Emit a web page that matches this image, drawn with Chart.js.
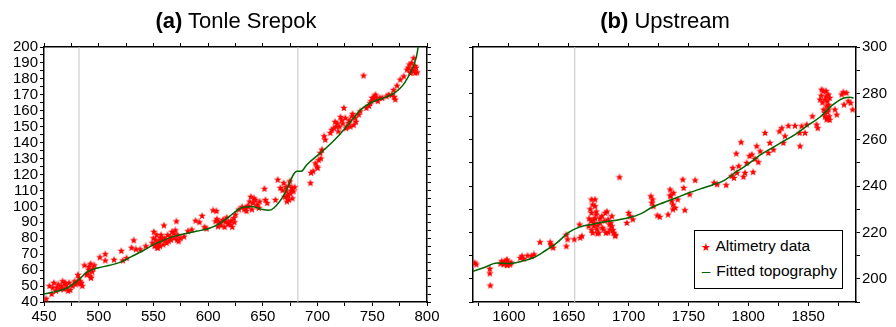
<!DOCTYPE html>
<html>
<head>
<meta charset="utf-8">
<script src="https://cdn.jsdelivr.net/npm/chart.js@4.4.1/dist/chart.umd.min.js"></script>
<style>
  body { margin: 0; background: #fff; }
  #wrap { position: relative; width: 896px; height: 327px; font-family: "Liberation Sans", Arial, Helvetica, sans-serif; }
  canvas { position: absolute; top: 0; }
  .title { position: absolute; top: 8px; width: 300px; text-align: center; font-size: 22px; color: #000; white-space: nowrap; }
  #legendB { position: absolute; left: 694px; top: 230px; width: 147px; height: 57px; border: 1px solid #000; background: #fff; font-size: 15.5px; color: #000; }
  #legendB div { position: absolute; left: 5px; white-space: nowrap; }
  .sym { display: inline-block; width: 12px; text-align: center; }
</style>
</head>
<body>
<div id="wrap">
  <canvas id="chartA" width="448" height="327" style="left:0"></canvas>
  <canvas id="chartB" width="448" height="327" style="left:448px"></canvas>
  <div class="title" style="left:86px"><b>(a)</b> Tonle Srepok</div>
  <div class="title" style="left:515px"><b>(b)</b> Upstream</div>
  <div id="legendB">
    <div style="top:6px"><span class="sym" style="color:#f00;font-size:11px">&#9733;</span> Altimetry data</div>
    <div style="top:31px"><span class="sym" style="color:#006400">&#8211;</span> Fitted topography</div>
  </div>
</div>
<script>
// (a) Tonle Srepok - altimetry points (distance, elevation)
const srepokX = [452,457,455,459,462,467,465,470,473,474,478,481,483.5,483,487,491,492.6,492.6,494,490,
  501,506,506,514,520.6,522,525.5,532,530,534,538,543,550.4,552,551,553.5,555,556.5,559.6,561,
  564,565.6,568.7,571,570,571.7,574.8,578,581.5,585,588.5,592,594.5,596.7,598.5,604.6,607.6,606.7,609,611,
  613.7,616,619,620.4,623.5,625,628,631,634,637,639,641,643,644.8,646.3,651.5,652.4,654,661.5,663.6,
  666,669,671.5,673.7,675,676.7,678,672,674.6,
  693.5,694,696,698,699.5,701,702.6,704,707,706,711.7,714.8,716,718,720,722,724,725.4,727,728.4,
  731.5,733,734.5,737.6,739,742,744.6,748,751,752.8,754,757,763,768,769.5,770,772.6,775.6,778.7,781.7,
  784,786,787.8,789.3,784.8,790,
  458,461,463,466,468,469,471,472,476,479,480,482,484,485,489,491,493,495,496,
  549,550,552,553,554,555,556,557,558,559,560,562,563,566,567,569,572,573,
  608,610,612,614,615,617,618,621,622,624,
  633,635,636,638,640,642,645,647,
  668,670,671,672,673,674,676,677,679,
  700,703,713,717,719,721,723,726,729,730,732,735,
  747,749,750,753,755,759,765,771,
  783,785,786,788,789,791];
const srepokY = [42,45,50,52,49,53,48,51,52,47.5,53,57,51.5,53,63,62,64,56,59,58,
  68,70,66,66.5,72,66,67.5,78.7,74,73,73,75,84,79,75,74,77,80,88,79,
  78,81,83,90.6,85,79,80,81,84.4,85.4,91,90,94,87,86,97.5,97,90.6,87.4,89.5,
  91.6,90.6,89.5,88.5,92.7,94.8,98,99.6,99,100,106,102,104,101,99,111,104,102,104,116.7,
  111.5,114.6,109.4,104,108,111.5,109.4,106,115.7,
  114.6,121,122,127,125,129,133.5,135.6,141.8,144,146,149,153,152,150,154,161.7,155.4,150,152.3,
  156.5,151,155.4,157.5,159.6,182,161.7,164.8,168,170,167,168,169,170,173,168.6,175.7,179.5,181.6,185.8,
  189,185.8,193,183.7,183.7,187,
  49,47,51,50,48,52,49,47,50,51,52,55,52,50,57,60,55,61,63,
  77,80,76,82,74,78,75,82,79,76,80,77,82,79,84,80,82,78,
  92,90,88,91,87,93,89,91,87,90,
  98,97,100,103,98,105,100,103,
  110,106,112,103,107,113,110,105,112,
  124,130,148,150,147,156,152,149,154,150,158,153,
  163,166,168,169,166,168,170,167,
  187,184,190,185,188,184];
// (a) fitted topography
const srepokFitX = [450,460,470,480,490,500,510,520,530,540,550,560,570,580,590,600,610,620,630,640,
  650,655,660,670,678,681,685,690,700,710,720,730,740,750,760,770,780,790,792];
const srepokFitY = [45,46.5,48.5,53,59,61.5,63,65,68.5,72,76,79,81.5,83,84.5,86,89,94,99,100,
  98,97.5,99,108,120,122,122,126,132,138,145,153,161,165.5,168,171,178,193,200];
const srepokBounds = [482, 682];

// (b) Upstream - altimetry points
const upX = [1571.4,1572.8,1584,1584,1584.5,1594,1595.6,1597,1598.4,1600,1601,1598.4,1609.5,1611,1612.3,1615.6,1619,1621,
  1626,1634.5,1636,1637,1635,1648,1648,1649,1654.6,1659,1661,1659.6,
  1669,1672,1669,1670.7,1671,1670,1672,1673,1673.5,1668.5,1666.6,1675,1676,1679,1680.5,1682,1683,1684.6,1686,1687.4,
  1688.8,1681,1677.7,1684,1686,
  1692.4,1698.5,1700,1701.3,1703.5,1718.6,1719.4,1720,1720.8,1724,1726,1733,1734.7,1735,1736,1737,1737.5,1739,1741,
  1745.3,1746,1747,1751,1755.6,1771.4,1774,1781.5,1786,1787,1788,1790,1790.5,1792,1794,1796,1797.3,1798.7,
  1801,1803,1804,1805.7,1807,1808.4,1810,1814,1816.8,1818,1821,1826,1828,1829.3,1830.7,1833.5,
  1839,1842.8,1843.3,1844.6,1847.4,1848.8,1853.6,1857,1858,
  1861.3,1862.7,1864,1865.5,1864,1865.5,1867,1866,1867,1867.7,1860,1865,
  1872.4,1873.9,1878,1879.4,1880,1882,1883.6,1885.5,1887.2,
  1593,1596,1599,1602,
  1667,1668,1669,1670,1671,1672,1673,1674,1674,1676,1678,1680,1683,1685,1687,1689,
  1735,1737,
  1861,1862,1863,1864,1865,1866,1866,1867,1868,1868];
const upY = [206.9,206.2,204.3,202.3,197.1,207.6,206.2,207.6,205.9,206.9,206.2,208.3,209,209.8,208.6,210,209.8,210.5,
  215.8,215.8,214,213.4,214.8,219,214,217,217,223.4,218.4,217.7,
  234.2,234.2,228.4,225.6,222.7,219.8,231.3,227.7,221.3,224.9,222.7,219.8,224,221.3,228.4,229,225.6,221.3,227,219.8,
  218.4,219.8,227,223.4,222.7,
  243.8,224.1,228.4,227,225.6,235.6,232.8,234.2,231.3,227.3,226.7,227.7,238.5,235.6,233.5,229.9,237,230.6,234.2,
  242.8,239.2,229.6,236.4,242.5,241.4,240.7,240.4,244.3,247.8,243.5,254,245.7,248.6,258.9,244,245.7,250,
  252.9,253.6,246,251.7,257.2,250.3,255,262.9,254.3,258.6,255.7,263.6,265,258.6,261.5,266,
  266,262.9,257.2,265.8,262.9,266.5,270.1,266.5,265,
  281.6,280.9,277.3,274.4,271.6,268.7,279.5,276.6,273,270.1,277.3,278.7,
  273,270.8,279.5,280.5,275.1,280.2,276.6,275.8,273,
  206.5,207,206,207,
  226,230,221,232,224,226,229,223,219.5,226,222,225,220,224,221,219,
  236,232,
  279,276,273,270,281,272,269,275,278,268.5];
// (b) fitted topography
const upFitX = [1570,1580,1590,1600,1610,1620,1630,1640,1650,1660,1670,1680,1690,1700,1710,1720,1730,1740,1750,1760,
  1770,1780,1790,1800,1810,1820,1830,1840,1850,1860,1870,1880,1885,1888];
const upFitY = [203.2,205,206.8,206.6,207.5,209,212,215.5,220,222.5,223.5,224.6,225.3,226.3,228,231,233,235,237,238.8,
  240.5,242.5,246.2,249.5,253.5,256.5,259.5,262.5,266.3,269.8,274.8,278,278.3,278];
const upBounds = [1655];

const font = '"Liberation Sans", Arial, Helvetica, sans-serif';
Chart.defaults.font.family = font;
Chart.defaults.font.size = 15;
Chart.defaults.color = '#000';

// filled five-pointed star used as marker
function makeStar(size, color) {
  const c = document.createElement('canvas');
  c.width = size; c.height = size;
  const g = c.getContext('2d');
  const cx = size / 2, cy = size / 2, ro = size / 2, ri = ro * 0.42;
  g.beginPath();
  for (let i = 0; i < 10; i++) {
    const r = i % 2 ? ri : ro;
    const a = -Math.PI / 2 + i * Math.PI / 5;
    g.lineTo(cx + r * Math.cos(a), cy + r * Math.sin(a));
  }
  g.closePath();
  g.fillStyle = color;
  g.fill();
  return c;
}
const star = makeStar(8, '#ff0000');

const pts = (xs, ys) => xs.map((x, i) => ({ x: x, y: ys[i] }));
const vlines = (xs, lo, hi) => xs.map(x => ({
  type: 'line', data: [{ x: x, y: lo }, { x: x, y: hi }], borderColor: '#c4c4c4', borderWidth: 1,
  pointRadius: 0, showLine: true, order: 3
}));

const frame = { display: true, color: '#000', width: 1.5 };
function axis(pos, min, max, step, labelEvery, opts) {
  return Object.assign({
    type: 'linear', position: pos, min: min, max: max,
    border: frame,
    grid: { drawOnChartArea: false, drawTicks: true, tickLength: 4, tickColor: '#000', tickWidth: 1 },
    ticks: {
      stepSize: step, autoSkip: false, maxRotation: 0, includeBounds: false, padding: 2,
      callback: v => (labelEvery && Math.abs(v % labelEvery) < 1e-6) ? String(v) : ''
    }
  }, opts || {});
}
const fixW = w => s => { s.width = w; };
const fixH = h => s => { s.height = h; };

new Chart(document.getElementById('chartA'), {
  type: 'scatter',
  data: {
    datasets: [
      { label: 'Fitted topography', type: 'line', data: pts(srepokFitX, srepokFitY), borderColor: '#006400',
        borderWidth: 1.5, pointRadius: 0, cubicInterpolationMode: 'monotone', order: 0 },
      { label: 'Altimetry data', data: pts(srepokX, srepokY), pointStyle: star, pointRadius: 4, order: 1 }
    ].concat(vlines(srepokBounds, 40, 200))
  },
  options: {
    responsive: false, animation: false,
    layout: { padding: { left: 0, right: 15, top: 41, bottom: 0 } },
    plugins: { legend: { display: false }, tooltip: { enabled: false } },
    scales: {
      x: axis('bottom', 450, 800, 25, 50, { afterFit: fixH(25) }),
      x2: axis('top', 450, 800, 25, 0, { afterFit: fixH(6) }),
      y: axis('left', 40, 200, 5, 10, { afterFit: fixW(44) }),
      y2: axis('right', 40, 200, 5, 0, { afterFit: fixW(6) })
    }
  }
});

new Chart(document.getElementById('chartB'), {
  type: 'scatter',
  data: {
    datasets: [
      { label: 'Fitted topography', type: 'line', data: pts(upFitX, upFitY), borderColor: '#006400',
        borderWidth: 1.5, pointRadius: 0, cubicInterpolationMode: 'monotone', order: 0 },
      { label: 'Altimetry data', data: pts(upX, upY), pointStyle: star, pointRadius: 4, order: 1 }
    ].concat(vlines(upBounds, 190, 300))
  },
  options: {
    responsive: false, animation: false,
    layout: { padding: { left: 19, right: 0, top: 41, bottom: 0 } },
    plugins: { legend: { display: false }, tooltip: { enabled: false } },
    scales: {
      x: axis('bottom', 1570, 1890, 25, 50, { afterFit: fixH(25) }),
      x2: axis('top', 1570, 1890, 25, 0, { afterFit: fixH(6) }),
      yl: axis('left', 190, 300, 10, 0, { afterFit: fixW(6) }),
      y: axis('right', 190, 300, 10, 20, { afterFit: fixW(40) })
    }
  }
});
</script>
</body>
</html>
